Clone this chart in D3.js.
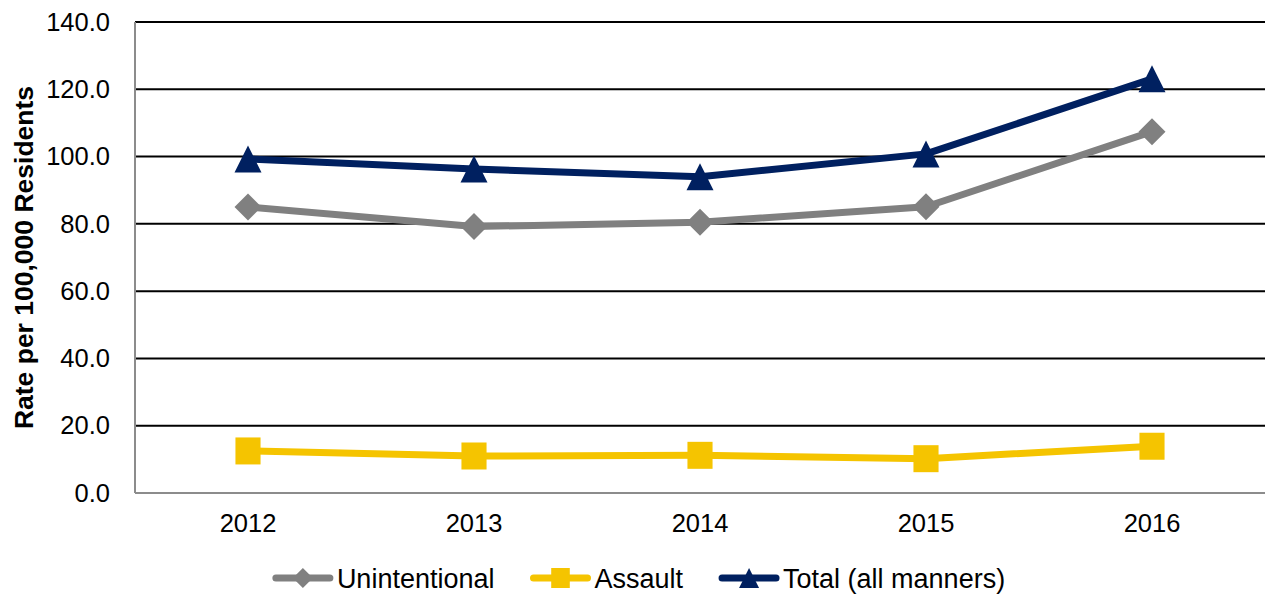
<!DOCTYPE html>
<html><head><meta charset="utf-8">
<script src="https://cdn.jsdelivr.net/npm/d3@7"></script>
<style>body{margin:0;background:#fff}svg{display:block;font-family:"Liberation Sans",Arial,sans-serif}</style>
</head><body><svg id="c" width="1265" height="594"></svg>
<script>
const years = ["2012","2013","2014","2015","2016"];
const unintentional = [85.0, 79.2, 80.5, 85.1, 107.4];
const assault = [12.5, 11.0, 11.2, 10.2, 13.9];
const total = [99.3, 96.3, 94.0, 100.8, 123.1];
const yTicks = [0, 20, 40, 60, 80, 100, 120, 140];
const seriesNames = ["Unintentional", "Assault", "Total (all manners)"];
const yTitle = "Rate per 100,000 Residents";

(function(){
const series = [
  {name: seriesNames[0], values: unintentional, color: "#808080", shape: "diamond"},
  {name: seriesNames[1], values: assault, color: "#F5C400", shape: "square"},
  {name: seriesNames[2], values: total, color: "#002060", shape: "triangle"}
];

const svg = d3.select("#c");
const pl = 135, pr = 1265, pt = 22, pb = 493;
const x = d3.scaleBand().domain(years).range([pl, pr]);
const y = d3.scaleLinear().domain([0, 140]).range([pb, pt]);

function markerPath(shape, s) {
  const h = s / 2;
  if (shape === "diamond") return `M0,${-h}L${h},0L0,${h}L${-h},0Z`;
  if (shape === "square") return `M${-h*0.93},${-h}H${h*0.93}V${h}H${-h*0.93}Z`;
  return `M0,${-h}L${h},${h}L${-h},${h}Z`;
}

svg.append("g").selectAll("line").data(yTicks.filter(d => d > 0)).join("line")
  .attr("x1", pl).attr("x2", pr)
  .attr("y1", d => y(d)).attr("y2", d => y(d))
  .attr("stroke", "#000").attr("stroke-width", 2);

svg.append("line").attr("x1", pl).attr("x2", pl).attr("y1", pt).attr("y2", pb)
  .attr("stroke", "#8c8c8c").attr("stroke-width", 2);
svg.append("line").attr("x1", pl).attr("x2", pr).attr("y1", pb).attr("y2", pb)
  .attr("stroke", "#8c8c8c").attr("stroke-width", 2);

const yAxis = svg.append("g").attr("transform", `translate(${pl},0)`)
  .call(d3.axisLeft(y).tickValues(yTicks).tickFormat(d3.format(".1f")).tickSize(0).tickPadding(25));
yAxis.select(".domain").remove();
yAxis.selectAll("text").attr("font-size", 25.5).attr("fill", "#000")
  .attr("font-family", "Liberation Sans, Arial, sans-serif");

const xAxis = svg.append("g").attr("transform", `translate(0,${pb})`)
  .call(d3.axisBottom(x).tickSize(0).tickPadding(21));
xAxis.select(".domain").remove();
xAxis.selectAll("text").attr("font-size", 25.5).attr("fill", "#000")
  .attr("font-family", "Liberation Sans, Arial, sans-serif");

svg.append("text").attr("transform", `translate(33,${(pt+pb)/2}) rotate(-90)`)
  .attr("text-anchor", "middle").attr("font-size", 26.5).attr("font-weight", "bold")
  .text(yTitle);

const line = d3.line().x((d, i) => x(years[i]) + x.bandwidth()/2).y(d => y(d));
series.forEach(s => {
  svg.append("path").attr("d", line(s.values)).attr("fill", "none")
    .attr("stroke", s.color).attr("stroke-width", 7).attr("stroke-linejoin", "round");
  svg.append("g").selectAll("path").data(s.values).join("path")
    .attr("transform", (d, i) => `translate(${x(years[i]) + x.bandwidth()/2},${y(d)})`)
    .attr("d", markerPath(s.shape, 27)).attr("fill", s.color);
});

const lg = svg.append("g");
let cx = 0;
const ly = 578;
series.forEach((s, i) => {
  const g = lg.append("g").attr("transform", `translate(${cx},0)`);
  g.append("line").attr("x1", 3).attr("x2", 57).attr("y1", ly).attr("y2", ly)
    .attr("stroke", s.color).attr("stroke-width", 7).attr("stroke-linecap", "round");
  g.append("path").attr("transform", `translate(30,${ly})`).attr("d", markerPath(s.shape, 20)).attr("fill", s.color);
  const t = g.append("text").attr("x", 64).attr("y", ly + 10).attr("font-size", 27).text(s.name);
  cx += 64 + t.node().getComputedTextLength() + 36;
});
const lw = cx - 36;
lg.attr("transform", `translate(${639 - lw/2},0)`);
})();
</script></body></html>
